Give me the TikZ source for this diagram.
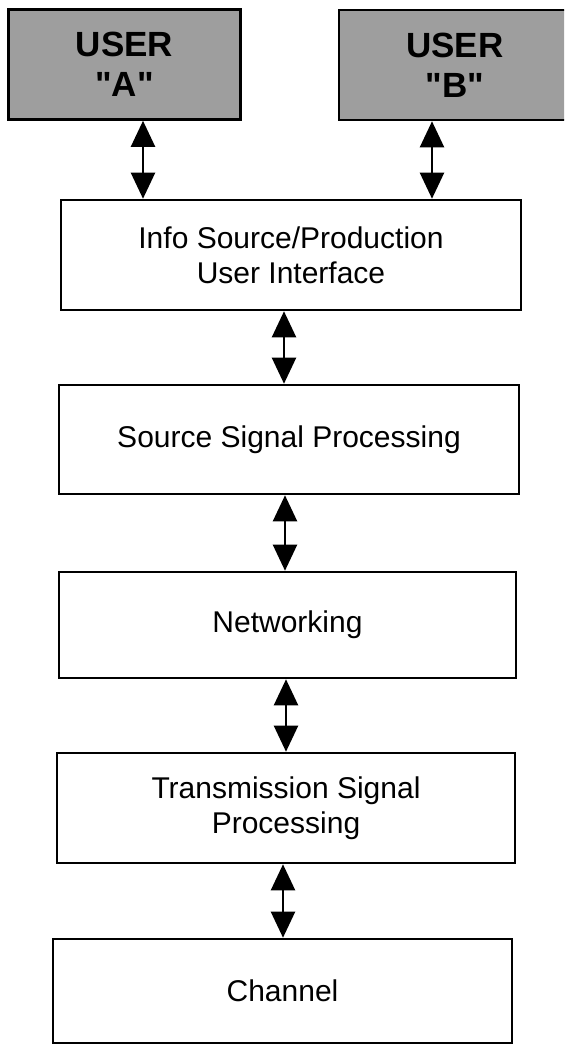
\documentclass[tikz,border=0pt]{standalone}
\usepackage{fontspec}
\setmainfont{Liberation Sans}
\usetikzlibrary{arrows.meta}

\tikzset{
  layer/.style={draw,line width=1.3pt,fill=white,inner sep=0pt,align=center,
    font=\fontsize{15}{17.5}\selectfont},
  user/.style={draw,line width=1.3pt,fill=black!38,inner sep=0pt,align=center,
    minimum width=116pt,minimum height=55pt,font=\fontsize{17.5}{20}\selectfont\bfseries},
  link/.style={line width=1.1pt,
    {Triangle[width=12pt,length=13pt]}-{Triangle[width=12pt,length=13pt]}}
}

\begin{document}
\begin{tikzpicture}[x=0.5pt,y=-0.5pt]
 \useasboundingbox (0,0) rectangle (564,1045);
 \clip (0,0) rectangle (564,1045);
 % users
 \node[user] (userA) at (124.5,64.5) {USER\\\textquotedbl A\textquotedbl};
 \node[user] (userB) at (455,65) {USER\\\textquotedbl B\textquotedbl};
 % layers
 \node[layer,minimum width=230pt,minimum height=55pt] (info) at (291,255)
   {Info Source/Production\\User Interface};
 \node[layer,minimum width=230pt,minimum height=54.5pt] (source) at (289,439.5)
   {Source Signal Processing};
 \node[layer,minimum width=228.5pt,minimum height=53pt] (net) at (287.5,625)
   {Networking};
 \node[layer,minimum width=229pt,minimum height=55pt] (trans) at (286,808)
   {Transmission Signal\\Processing};
 \node[layer,minimum width=229.5pt,minimum height=52pt] (chan) at (282.5,991)
   {Channel};
 % links
 \draw[link] (userA.south -| 143,0) -- (info.north -| 143,0);
 \draw[link] (userB.south -| 432,0) -- (info.north -| 432,0);
 \draw[link] (info.south -| 284,0) -- (source.north -| 284,0);
 \draw[link] (source.south -| 285,0) -- (net.north -| 285,0);
 \draw[link] (net.south -| 286,0) -- (trans.north -| 286,0);
 \draw[link] (trans.south -| 283,0) -- (chan.north -| 283,0);
\end{tikzpicture}
\end{document}
